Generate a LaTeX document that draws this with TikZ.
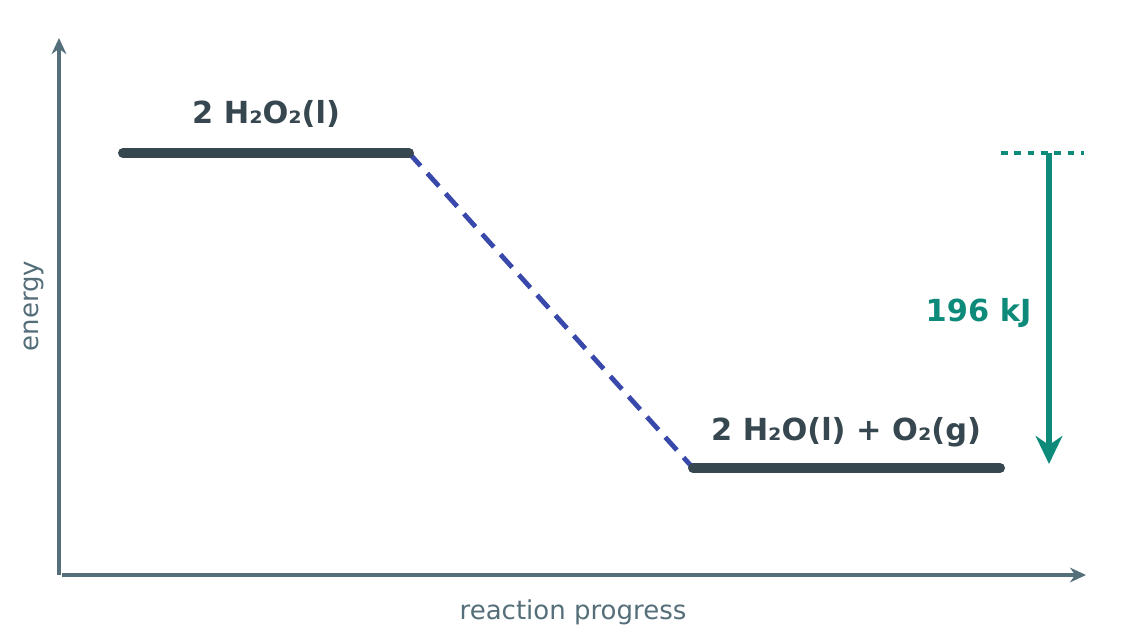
\documentclass[tikz,border=0pt]{standalone}
\usepackage{fontspec}
\setmainfont{DejaVu Sans}
\usetikzlibrary{arrows.meta, positioning, calc}
\definecolor{AxisGrey}{HTML}{546E7A}
\definecolor{LevelDark}{HTML}{37474F}
\definecolor{PathBlue}{HTML}{3949AB}
\definecolor{DeltaTeal}{HTML}{0E8A7A}

\begin{document}
\begin{tikzpicture}[
        x=0.75pt, y=-0.75pt, >=Stealth,
        axis/.style={AxisGrey, line width=2.8pt, -{Stealth[length=12pt, width=11pt]}},
        level/.style={LevelDark, line width=7.5pt, line cap=round},
        path/.style={PathBlue, dash pattern=on 13pt off 7.5pt, line width=3.6pt},
        ref/.style={DeltaTeal, line width=2.4pt, dash pattern=on 5pt off 5pt},
        delta/.style={DeltaTeal, line width=4pt, -{Stealth[length=21pt, width=20pt]}},
        chem/.style={font=\fontsize{22.8}{27}\selectfont\bfseries, text=LevelDark},
        axlab/.style={font=\fontsize{19.5}{23}\selectfont, text=AxisGrey},
      ]
        \useasboundingbox (0,0) rectangle (1124,641);
        % --- axes ---
        \coordinate (origin) at (59,575);
        \coordinate (ytop) at (59,38);
        \coordinate (xend) at (1086,575);
        \draw[axis] (origin) -- (ytop);
        \draw[axis] ($(origin)+(3,0)$) -- (xend);
        \node[axlab] (xlab) at (573,612) {reaction progress};
        \node[axlab, rotate=90] (ylab) at (34,306) {energy};
        % --- energy levels ---
        \coordinate (reacL) at (123,153);
        \coordinate (reacR) at (409,153);
        \coordinate (prodL) at (693,468);
        \coordinate (prodR) at (1000,468);
        \draw[path] (reacR) -- (prodL);
        \draw[level] (reacL) -- (reacR);
        \draw[level] (prodL) -- (prodR);
        \node[chem] (reac) at (266,114) {2 H₂O₂(l)};
        \node[chem] (prod) at (846,432) {2 H₂O(l) + O₂(g)};
        % --- enthalpy change ---
        \coordinate (refL) at (1001,153);
        \coordinate (refR) at (1084,153);
        \coordinate (dtop) at (1049,153);
        \coordinate (dbot) at (1049,464);
        \draw[ref] (refL) -- (refR);
        \draw[delta] (dtop) -- (dbot);
        \node[chem, text=DeltaTeal, anchor=east] (dH) at (1036,313) {196 kJ};
      \end{tikzpicture}
\end{document}
